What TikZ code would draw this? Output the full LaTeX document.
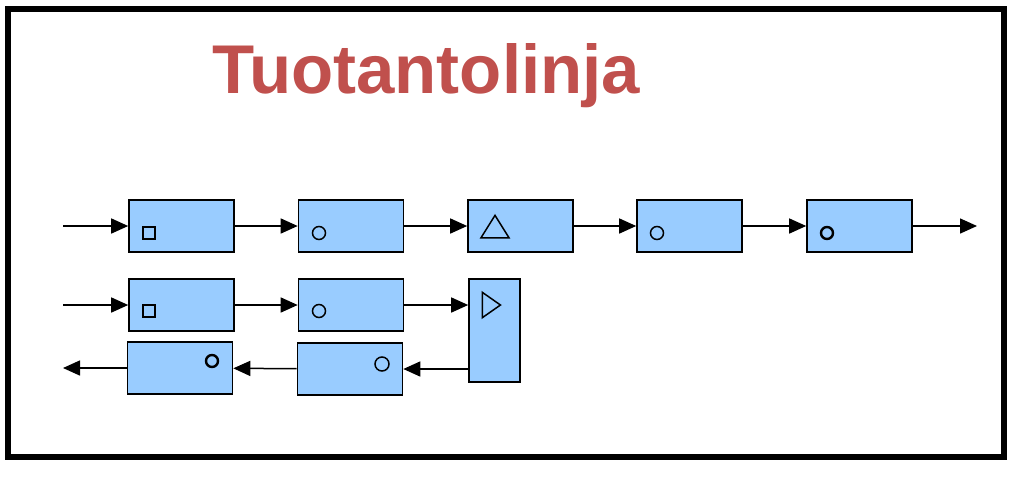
\documentclass[tikz,border=0pt]{standalone}
\usepackage{fontspec}
\setmainfont{Liberation Sans}
\usetikzlibrary{shapes.geometric,arrows.meta}
\definecolor{boxblue}{HTML}{99CCFF}
\definecolor{titlered}{HTML}{C0504D}
\begin{document}
\begin{tikzpicture}[x=1pt,y=-1pt,
    sbox/.style={draw,fill=boxblue,line width=1.6pt,minimum width=105pt,minimum height=52pt,inner sep=0pt},
    mk/.style={draw,line width=1.5pt,inner sep=0pt},
    flow/.style={-{Triangle[length=17pt,width=15pt]},line width=1.5pt}]
    \useasboundingbox (0,0) rectangle (1024,477);
    \draw[line width=5.5pt] (8,9) rectangle (1004,457);
    \node[text=titlered,font=\bfseries\fontsize{69}{72}\selectfont] (title) at (426,76) {Tuotantolinja};

    % first line
    \coordinate (in1) at (63,226);
    \node[sbox] (a1) at (181.5,226) {};
    \node[sbox] (a2) at (351,226) {};
    \node[sbox] (a3) at (520.5,226) {};
    \node[sbox] (a4) at (689.5,226) {};
    \node[sbox] (a5) at (859.5,226) {};
    \coordinate (out1) at (977,226);
    \node[mk,rectangle,minimum size=12pt] (a1m) at (149,233) {};
    \node[mk,circle,minimum size=13pt] (a2m) at (319,233) {};
    \node[mk,isosceles triangle,isosceles triangle apex angle=64,shape border rotate=90,minimum width=28pt,minimum height=21pt] (a3m) at (495,230) {};
    \node[mk,circle,minimum size=13pt] (a4m) at (657,233) {};
    \node[mk,circle,minimum size=12pt,line width=2.4pt] (a5m) at (827,233) {};
    \draw[flow] (in1) -- (a1);
    \draw[flow] (a1) -- (a2);
    \draw[flow] (a2) -- (a3);
    \draw[flow] (a3) -- (a4);
    \draw[flow] (a4) -- (a5);
    \draw[flow] (a5) -- (out1);

    % second line
    \coordinate (in2) at (63,305);
    \node[sbox] (b1) at (181.5,305) {};
    \node[sbox] (b2) at (351,305) {};
    \node[sbox,minimum width=51pt,minimum height=103pt] (b3) at (494.5,330.5) {};
    \node[sbox] (b4) at (350,369) {};
    \node[sbox] (b5) at (180,368) {};
    \coordinate (out2) at (63,368);
    \node[mk,rectangle,minimum size=12pt] (b1m) at (149,311) {};
    \node[mk,circle,minimum size=13pt] (b2m) at (319,311) {};
    \node[mk,isosceles triangle,isosceles triangle apex angle=70,minimum width=25pt,minimum height=18pt] (b3m) at (489,305) {};
    \node[mk,circle,minimum size=14pt] (b4m) at (382,364) {};
    \node[mk,circle,minimum size=12pt,line width=2.4pt] (b5m) at (212,361) {};
    \draw[flow] (in2) -- (b1);
    \draw[flow] (b1) -- (b2);
    \draw[flow] (b2) -- (b2 -| b3.west);
    \draw[flow] (b3.west |- b4) -- (b4);
    \draw[flow] (b4) -- (b5);
    \draw[flow] (b5) -- (out2);
\end{tikzpicture}
\end{document}
